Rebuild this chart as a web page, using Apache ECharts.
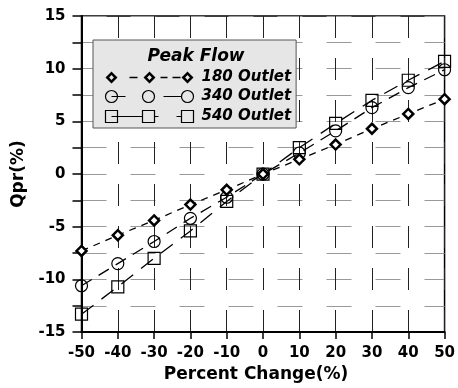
<!DOCTYPE html>
<html>
<head>
<meta charset="utf-8">
<script src="https://cdn.jsdelivr.net/npm/echarts@6/dist/echarts.min.js"></script>
<style>
html,body{margin:0;padding:0;background:#fff;}
#chart{width:458px;height:388px;}
</style>
</head>
<body>
<div id="chart"></div>
<script>
// ---- data ----
const percentChange = [-50, -40, -30, -20, -10, 0, 10, 20, 30, 40, 50];
const outlet180 = [-7.3, -5.8, -4.4, -2.9, -1.5, 0, 1.4, 2.8, 4.3, 5.7, 7.1];
const outlet340 = [-10.6, -8.5, -6.4, -4.2, -2.2, 0, 2.0, 4.1, 6.3, 8.2, 9.9];
const outlet540 = [-13.3, -10.7, -8.0, -5.4, -2.6, 0, 2.5, 4.8, 7.0, 8.9, 10.7];
const seriesNames = ['180 Outlet', '340 Outlet', '540 Outlet'];
const legendTitle = 'Peak Flow';
const xAxisName = 'Percent Change(%)';
const yAxisName = 'Qpr(%)';

const FONT = 'DejaVu Sans';

function pairs(vals) { return percentChange.map((x, i) => [x, vals[i]]); }

// legend icons (symbol - line - symbol patterns)
function diamond(cx) {
  return 'M' + (cx - 6) + ' 6 L' + cx + ' 0 L' + (cx + 6) + ' 6 L' + cx + ' 12 Z ' +
         'M' + cx + ' 3.6 L' + (cx - 2.4) + ' 6 L' + cx + ' 8.4 L' + (cx + 2.4) + ' 6 Z ';
}
function dashRect(x1, x2) {
  return 'M' + x1 + ' 5.2 L' + x2 + ' 5.2 L' + x2 + ' 6.8 L' + x1 + ' 6.8 Z ';
}
function circ(cx) {
  return 'M' + (cx - 6) + ' 6 A6 6 0 1 0 ' + (cx + 6) + ' 6 A6 6 0 1 0 ' + (cx - 6) + ' 6 Z ';
}
function sq(x) {
  return 'M' + x + ' 0 L' + (x + 12) + ' 0 L' + (x + 12) + ' 12 L' + x + ' 12 Z ';
}
const icon180 = 'path://' + diamond(6) + dashRect(24, 32) + diamond(44) + dashRect(55, 62) + dashRect(67, 75) + diamond(82) + 'M91 6';
const icon340 = 'path://' + circ(6) + 'M6 6 L20 6 ' + circ(43) + 'M58 6 L76 6 ' + circ(82) + 'M91 6';
const icon540 = 'path://' + sq(0) + 'M6 6 L37 6 ' + sq(37) + 'M49 6 L53 6 M71 6 L76 6 ' + sq(76) + 'M91 6';

const chart = echarts.init(document.getElementById('chart'), null, {renderer: 'canvas'});

const option = {
  animation: false,
  backgroundColor: '#fff',
  title: {
    text: legendTitle,
    left: 196,
    top: 48,
    textAlign: 'center',
    padding: 0,
    textStyle: {fontFamily: FONT, fontWeight: 'bold', fontStyle: 'italic', fontSize: 17, color: '#000'}
  },
  legend: {
    orient: 'vertical',
    left: 93,
    top: 40,
    padding: [30, 5, 3, 10],
    itemWidth: 91,
    itemHeight: 12,
    itemGap: 3,
    selectedMode: false,
    backgroundColor: '#e6e6e6',
    borderColor: '#555',
    borderWidth: 1,
    textStyle: {fontFamily: FONT, fontWeight: 'bold', fontStyle: 'italic', fontSize: 15, color: '#000'},
    data: [
      {name: seriesNames[0], icon: icon180, itemStyle: {color: '#000', borderWidth: 0}},
      {name: seriesNames[1], icon: icon340, itemStyle: {color: 'none', borderColor: '#000', borderWidth: 1.2}},
      {name: seriesNames[2], icon: icon540, itemStyle: {color: 'none', borderColor: '#000', borderWidth: 1.2}}
    ]
  },
  grid: {
    left: 81.5, right: 9, top: 16, bottom: 53,
    show: true, borderColor: '#000', borderWidth: 1.5, backgroundColor: 'transparent'
  },
  xAxis: {
    type: 'value',
    min: -50, max: 50, interval: 10,
    name: xAxisName,
    nameLocation: 'middle',
    nameGap: 33,
    nameTextStyle: {fontFamily: FONT, fontWeight: 'bold', fontSize: 17, color: '#000', padding: [0, 14, 0, 0]},
    axisLine: {onZero: false, lineStyle: {color: '#000', width: 2}},
    axisTick: {show: true, length: 7, lineStyle: {color: '#000', width: 1.5}},
    axisLabel: {margin: 14, fontFamily: FONT, fontWeight: 'bold', fontSize: 15, color: '#000'},
    splitLine: {show: true, lineStyle: {color: '#222', width: 1, type: [22, 20]}}
  },
  yAxis: {
    type: 'value',
    min: -15, max: 15, interval: 2.5,
    name: yAxisName,
    nameLocation: 'middle',
    nameGap: 52,
    nameTextStyle: {fontFamily: FONT, fontWeight: 'bold', fontSize: 17, color: '#000'},
    axisLine: {onZero: false, lineStyle: {color: '#000', width: 2}},
    axisTick: {show: true, length: 9, lineStyle: {color: '#000', width: 1.5}},
    axisLabel: {
      margin: 16, fontFamily: FONT, fontWeight: 'bold', fontSize: 15, color: '#000',
      formatter: function (v) { return (v % 5 === 0) ? String(v) : ''; }
    },
    splitLine: {show: true, lineStyle: {color: '#999', width: 1.2, type: [25, 24]}}
  },
  series: [
    {
      name: seriesNames[0], type: 'line', data: pairs(outlet180),
      symbol: 'diamond', symbolSize: 10,
      itemStyle: {color: '#fff', borderColor: '#000', borderWidth: 2.5},
      lineStyle: {color: '#000', width: 1.3, type: [7, 6]},
      z: 4
    },
    {
      name: seriesNames[1], type: 'line', data: pairs(outlet340),
      symbol: 'circle', symbolSize: 12,
      itemStyle: {color: 'rgba(0,0,0,0)', borderColor: '#000', borderWidth: 1.2},
      lineStyle: {color: '#000', width: 1.3, type: [12, 8]},
      z: 3
    },
    {
      name: seriesNames[2], type: 'line', data: pairs(outlet540),
      symbol: 'rect', symbolSize: 12,
      itemStyle: {color: 'rgba(0,0,0,0)', borderColor: '#000', borderWidth: 1.2},
      lineStyle: {color: '#000', width: 1.3, type: [15, 10]},
      z: 3
    }
  ]
};
chart.setOption(option);
</script>
</body>
</html>
